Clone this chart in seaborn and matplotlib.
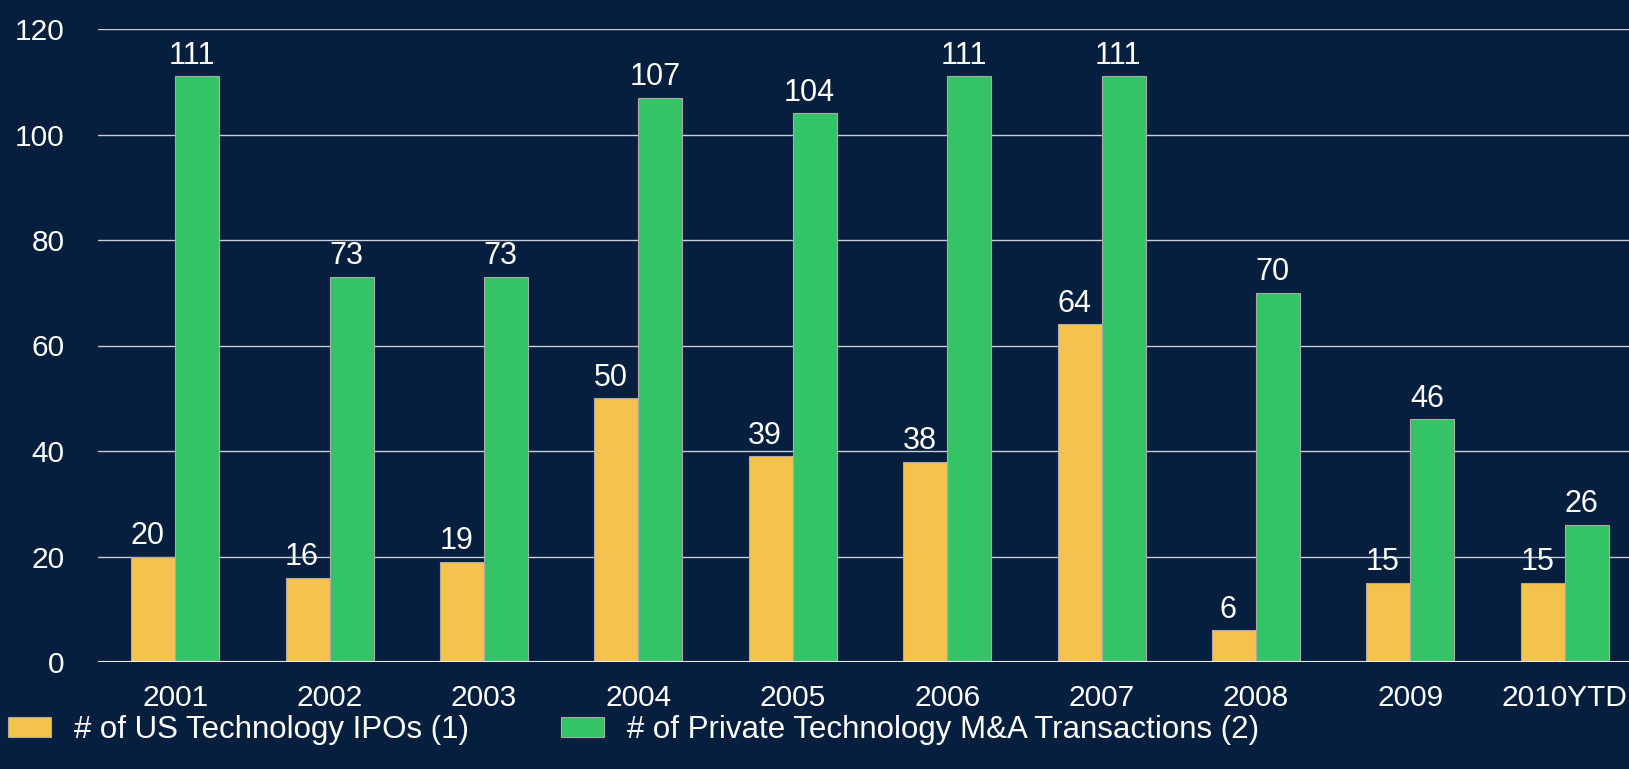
import matplotlib
matplotlib.use("Agg")
import matplotlib.pyplot as plt
import seaborn as sns
import pandas as pd
from matplotlib.patches import Patch

years = ["2001", "2002", "2003", "2004", "2005", "2006", "2007", "2008", "2009", "2010YTD"]
ipos = [20, 16, 19, 50, 39, 38, 64, 6, 15, 15]
mna = [111, 73, 73, 107, 104, 111, 111, 70, 46, 26]
series_names = ["# of US Technology IPOs (1)", "# of Private Technology M&A Transactions (2)"]
yticks = [0, 20, 40, 60, 80, 100, 120]

BG = "#071F3F"
YELLOW = "#F5C34D"
GREEN = "#34C467"
EDGE = "#A9A9A9"

df = pd.DataFrame({
    "year": years * 2,
    "value": ipos + mna,
    "series": [series_names[0]] * len(years) + [series_names[1]] * len(years),
})

sns.set_theme(style="dark")
plt.rcParams["font.family"] = ["Liberation Sans", "DejaVu Sans"]

fig = plt.figure(figsize=(16.29, 7.69), dpi=100, facecolor=BG)
ax = fig.add_axes([98 / 1629, 1 - 662 / 769, (1642 - 98) / 1629, (662 - 29) / 769])
ax.set_facecolor(BG)

sns.barplot(data=df, x="year", y="value", hue="series", order=years,
            hue_order=series_names, palette=[YELLOW, GREEN], saturation=1,
            width=0.57, edgecolor=EDGE, linewidth=0.8, ax=ax, legend=False, zorder=3)

ax.set_ylim(0, 120)
ax.set_xlim(-0.5, len(years) - 0.5)
ax.set_yticks(yticks)
ax.set_xlabel("")
ax.set_ylabel("")
for s in ax.spines.values():
    s.set_visible(False)
ax.grid(axis="y", color="#C8CCD4", linewidth=1.0, zorder=0)
ax.grid(axis="x", visible=False)
ax.axhline(0, color="#E6E8EC", linewidth=1.5, zorder=4)
ax.tick_params(axis="y", length=0, pad=24, labelsize=21.5, labelcolor="white")
ax.tick_params(axis="x", length=0, pad=16, labelsize=21.5, labelcolor="white")

for cont in ax.containers:
    for rect, v in zip(cont.patches, cont.datavalues):
        ax.annotate(f"{int(v)}", (rect.get_x() + rect.get_width() / 2, rect.get_height()),
                    xytext=(-4, 4), textcoords="offset points", ha="center", va="bottom",
                    fontsize=22, color="white")

handles = [Patch(facecolor=YELLOW, edgecolor=EDGE, linewidth=0.8),
           Patch(facecolor=GREEN, edgecolor=EDGE, linewidth=0.8)]
fig.legend(handles, series_names, loc="center left", bbox_to_anchor=(8 / 1629, 1 - 730 / 769),
           ncol=2, frameon=False, fontsize=22.5, labelcolor="white",
           handlelength=1.38, handleheight=0.64, handletextpad=0.74,
           columnspacing=2.94, borderpad=0, borderaxespad=0)

fig.savefig("out.png", dpi=100, facecolor=BG)
